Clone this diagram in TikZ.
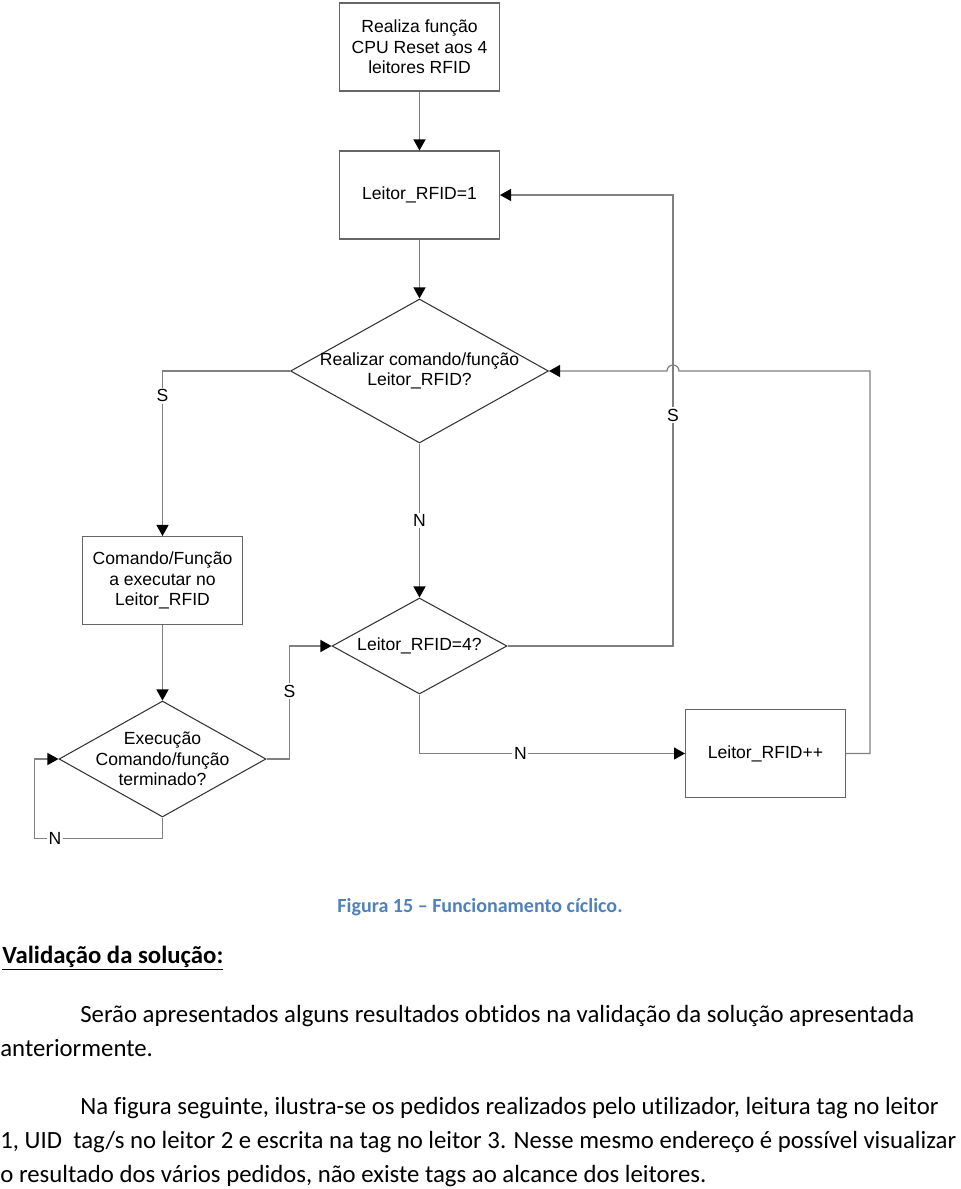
\documentclass[tikz,border=0pt]{standalone}
\usepackage{fontspec}
\setmainfont[Ligatures=NoCommon]{Carlito}
\newfontfamily\arialfont{Liberation Sans}
\usetikzlibrary{positioning, calc, shapes.geometric, arrows.meta}
\definecolor{captionblue}{RGB}{79,129,189}
\tikzset{
	block/.style={draw=black!60, line width=0.6pt, minimum width=3.2cm, minimum height=1.76cm, align=center, font=\arialfont\fontsize{10}{11.6}\selectfont},
	decision/.style={draw=black!80, diamond, inner sep=0pt, line width=0.6pt},
	dtext/.style={align=center, font=\arialfont\fontsize{10}{11.6}\selectfont},
	flow/.style={draw=black!50, line width=0.7pt, -{Triangle[length=0.22cm, width=0.24cm, color=black]}},
	yesno/.style={fill=white, inner sep=1pt, font=\arialfont\fontsize{10}{12}\selectfont},
	bodytext/.style={anchor=base west, inner sep=0pt, font=\fontsize{14.1}{19.35}\selectfont}
}
\begin{document}
\begin{tikzpicture}[x=0.02cm, y=-0.02cm]
	\useasboundingbox (0,0) rectangle (960,1189);
	\node (reset) [block] at (419.5,47) {Realiza função\\CPU Reset aos 4\\leitores RFID};
	\node (init) [block] at (419.5,195) {Leitor\_RFID=1};
	\node (ask) [decision, minimum width=5.16cm, minimum height=2.88cm, label={[dtext]center:Realizar comando/função\\Leitor\_RFID?}] at (419.5,371) {};
	\node (cmd) [block] at (162.5,580.5) {Comando/Função\\a executar no\\Leitor\_RFID};
	\node (done) [decision, minimum width=4.14cm, minimum height=2.32cm, label={[dtext]center:Execução\\Comando/função\\terminado?}] at (162.5,759) {};
	\node (last) [decision, minimum width=3.5cm, minimum height=1.92cm, label={[dtext]center:Leitor\_RFID=4?}] at (419.5,646) {};
	\node (next) [block] at (765.5,753.5) {Leitor\_RFID++};
	\coordinate (jump) at (673,371);
	
	\draw [flow] (reset) -- (init);
	\draw [flow] (init) -- (ask);
	\draw [flow] (ask.west) -| node[yesno, pos=0.575] {S} (cmd.north);
	\draw [flow] (ask) -- node[yesno] {N} (last);
	\draw [flow] (cmd) -- (done);
	\draw [flow] (done.east) -- ++(23,0) |- node[yesno, pos=0.3] {S} (last.west);
	\draw [flow] (done.south) -- ++(0,21) -| node[yesno, pos=0.42] {N} ($(done.west)+(-24,0)$) -- (done.west);
	\draw [flow] (last.east) -| node[yesno, pos=0.92] {S} (jump) |- (init.east);
	\draw [flow] (last.south) |- node[yesno, pos=0.69] {N} (next.west);
	\draw [flow] (next.east) -- ++(24,0) |- ($(jump)+(6,0)$) arc[start angle=0, end angle=180, radius=0.12cm] -- (ask.east);
	
	\node (caption) [anchor=base, inner sep=0pt, text=captionblue, font=\bfseries\fontsize{11.4}{13}\selectfont] at (480,912) {Figura 15 – Funcionamento cíclico.};
	\node (heading) [anchor=base west, inner sep=0pt, font=\bfseries\fontsize{14.1}{16}\selectfont] at (2,963) {\underline{Validação da solução:}};
	\node (p1a) [bodytext] at (80,1022) {Serão apresentados alguns resultados obtidos na validação da solução apresentada};
	\node (p1b) [bodytext] at (0,1056) {anteriormente.};
	\node (p2a) [bodytext] at (80,1114) {Na figura seguinte, ilustra-se os pedidos realizados pelo utilizador, leitura tag no leitor};
	\node (p2b) [bodytext] at (0,1148) {1, UID\ \ tag/s no leitor 2 e escrita na tag no leitor 3. Nesse mesmo endereço é possível visualizar};
	\node (p2c) [bodytext] at (0,1182) {o resultado dos vários pedidos, não existe tags ao alcance dos leitores.};
\end{tikzpicture}
\end{document}
